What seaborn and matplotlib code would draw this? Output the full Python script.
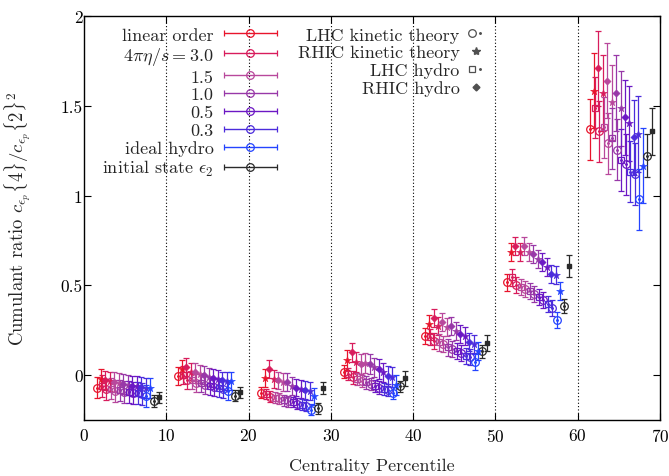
import numpy as np
import pandas as pd
import matplotlib
matplotlib.use("Agg")
import matplotlib.pyplot as plt
import seaborn as sns
from matplotlib.container import ErrorbarContainer
from matplotlib.legend_handler import HandlerErrorbar, HandlerTuple
from matplotlib.lines import Line2D

# ---------------- data ----------------
bin_divisions = [10, 20, 30, 40, 50, 60]
bin_start = [1.6, 11.45, 21.55, 31.55, 41.5, 51.45, 61.5]   # centrality of first point per bin

# LHC (open markers)
lhc_linear_kin = [-0.070, -0.005, -0.097, 0.020, 0.219, 0.516, 1.370]
lhc_3p0_hydro  = [-0.060, 0.000, -0.105, 0.006, 0.210, 0.544, 1.490]
lhc_3p0_kin    = [-0.080, -0.030, -0.120, -0.013, 0.191, 0.503, 1.358]
lhc_1p5_hydro  = [-0.075, -0.030, -0.125, -0.022, 0.182, 0.492, 1.380]
lhc_1p5_kin    = [-0.090, -0.045, -0.130, -0.032, 0.173, 0.479, 1.292]
lhc_1p0_hydro  = [-0.085, -0.045, -0.140, -0.041, 0.154, 0.470, 1.318]
lhc_1p0_kin    = [-0.095, -0.055, -0.145, -0.050, 0.145, 0.451, 1.255]
lhc_0p5_hydro  = [-0.095, -0.060, -0.150, -0.060, 0.135, 0.433, 1.198]
lhc_0p5_kin    = [-0.100, -0.065, -0.160, -0.069, 0.121, 0.418, 1.175]
lhc_0p3_hydro  = [-0.100, -0.070, -0.165, -0.078, 0.108, 0.396, 1.133]
lhc_0p3_kin    = [-0.105, -0.075, -0.171, -0.082, 0.099, 0.373, 1.120]
lhc_ideal      = [-0.115, -0.087, -0.193, -0.100, 0.071, 0.308, 0.980]
lhc_initial    = [-0.143, -0.115, -0.184, -0.063, 0.132, 0.386, 1.222]

# RHIC (filled markers)
rhic_linear_kin = [-0.020, 0.033, -0.018, 0.085, 0.284, 0.683, 1.584]
rhic_3p0_hydro  = [-0.030, 0.045, 0.033, 0.126, 0.318, 0.720, 1.709]
rhic_3p0_kin    = [-0.035, 0.020, -0.022, 0.074, 0.275, 0.683, 1.571]
rhic_1p5_hydro  = [-0.040, 0.015, -0.030, 0.061, 0.294, 0.720, 1.640]
rhic_1p5_kin    = [-0.045, 0.005, -0.037, 0.067, 0.266, 0.683, 1.519]
rhic_1p0_hydro  = [-0.050, 0.000, -0.041, 0.061, 0.275, 0.674, 1.571]
rhic_1p0_kin    = [-0.055, -0.010, -0.060, 0.043, 0.247, 0.646, 1.486]
rhic_0p5_hydro  = [-0.060, -0.015, -0.069, 0.033, 0.228, 0.628, 1.436]
rhic_0p5_kin    = [-0.060, -0.020, -0.078, 0.015, 0.219, 0.600, 1.402]
rhic_0p3_hydro  = [-0.065, -0.030, -0.082, -0.004, 0.182, 0.563, 1.324]
rhic_0p3_kin    = [-0.070, -0.035, -0.091, -0.010, 0.173, 0.559, 1.343]
rhic_ideal      = [-0.070, -0.035, -0.119, -0.056, 0.135, 0.470, 1.166]
rhic_initial    = [-0.124, -0.095, -0.072, -0.018, 0.178, 0.609, 1.358]

# error bars
lhc_err          = [0.060, 0.050, 0.030, 0.035, 0.045, 0.045, 0.170]
rhic_err         = [0.055, 0.050, 0.050, 0.055, 0.050, 0.050, 0.210]
lhc_initial_err  = [0.035, 0.030, 0.030, 0.030, 0.035, 0.040, 0.120]
rhic_initial_err = [0.030, 0.030, 0.035, 0.040, 0.045, 0.060, 0.130]

legend_labels = ["linear order", r"$4\pi\eta/s = 3.0$", "1.5", "1.0", "0.5", "0.3",
                 "ideal hydro", r"initial state $\epsilon_2$"]
legend_labels_right = ["LHC kinetic theory", "RHIC kinetic theory", "LHC hydro", "RHIC hydro"]

# ---------------- style ----------------
FS = 13
sns.set_theme(style="ticks")
plt.rcParams.update({
    "font.family": ["cmr10", "DejaVu Serif"],
    "mathtext.fontset": "cm",
    "axes.formatter.use_mathtext": True,
    "font.size": FS,
    "axes.linewidth": 1.0,
    "axes.edgecolor": "black",
    "xtick.color": "black", "ytick.color": "black",
})

col_linear = "#e8142c"
col_3p0 = "#d81c5c"
col_1p5 = "#b8489c"
col_1p0 = "#9838a8"
col_0p5 = "#6c18c4"
col_0p3 = "#4c2cdc"
col_ideal = "#2444ff"
col_init = "#2a2a2a"

step = 0.545
rhic_shift = 0.43
init_lhc_shift = 6.9
init_rhic_shift = 7.5

# series: (lhc values, rhic values, color, index in bin, is hydro)
series = [
    (lhc_linear_kin, rhic_linear_kin, col_linear, 0, False),
    (lhc_3p0_hydro, rhic_3p0_hydro, col_3p0, 1, True),
    (lhc_3p0_kin, rhic_3p0_kin, col_3p0, 2, False),
    (lhc_1p5_hydro, rhic_1p5_hydro, col_1p5, 3, True),
    (lhc_1p5_kin, rhic_1p5_kin, col_1p5, 4, False),
    (lhc_1p0_hydro, rhic_1p0_hydro, col_1p0, 5, True),
    (lhc_1p0_kin, rhic_1p0_kin, col_1p0, 6, False),
    (lhc_0p5_hydro, rhic_0p5_hydro, col_0p5, 7, True),
    (lhc_0p5_kin, rhic_0p5_kin, col_0p5, 8, False),
    (lhc_0p3_hydro, rhic_0p3_hydro, col_0p3, 9, True),
    (lhc_0p3_kin, rhic_0p3_kin, col_0p3, 10, False),
    (lhc_ideal, rhic_ideal, col_ideal, 11, False),
]

fig = plt.figure(figsize=(6.69, 4.77), dpi=100)
ax = fig.add_axes([84 / 669, 1 - 421 / 477, (660 - 84) / 669, (421 - 17) / 477])

for xv in bin_divisions:
    ax.axvline(xv, color="black", lw=0.8, ls=(0, (1, 2)), zorder=0)

ebkw = dict(capsize=2.5, capthick=0.9, elinewidth=0.9, ls="none")
xs0 = np.array(bin_start)

for lhc, rhic, c, idx, hydro in series:
    xl = xs0 + step * idx
    xr = xl + rhic_shift
    # LHC: open marker with central dot
    ax.errorbar(xl, lhc, yerr=lhc_err, color=c, marker="s" if hydro else "o",
                mfc="none", mec=c, ms=5 if hydro else 5.5, mew=0.9, zorder=2, **ebkw)
    ax.plot(xl, lhc, ls="none", marker="o", ms=1.1, color=c, zorder=3)
    # RHIC: filled marker
    ax.errorbar(xr, rhic, yerr=rhic_err, color=c, fmt="none", zorder=2,
                capsize=2.5, capthick=0.9, elinewidth=0.9)
    df = pd.DataFrame({"x": xr, "y": rhic})
    sns.scatterplot(data=df, x="x", y="y", ax=ax, color=c,
                    marker="D" if hydro else "*", s=14 if hydro else 36,
                    edgecolor=c, linewidth=0.3, zorder=3, legend=False)

# initial state
xi_l = xs0 + init_lhc_shift
xi_r = xs0 + init_rhic_shift
ax.errorbar(xi_l, lhc_initial, yerr=lhc_initial_err, color=col_init, marker="o",
            mfc="none", mec=col_init, ms=5.5, mew=0.9, zorder=2, **ebkw)
ax.plot(xi_l, lhc_initial, ls="none", marker="o", ms=1.1, color=col_init, zorder=3)
ax.errorbar(xi_r, rhic_initial, yerr=rhic_initial_err, color=col_init, marker="s",
            ms=3.5, mfc=col_init, mec=col_init, zorder=2, **ebkw)

ax.set_xlim(0, 70)
ax.set_ylim(-0.25, 2)
ax.set_xticks([0, 10, 20, 30, 40, 50, 60, 70])
ax.set_yticks([0, 0.5, 1, 1.5, 2])
ax.set_yticklabels(["0", "0.5", "1", "1.5", "2"])
ax.tick_params(direction="in", top=True, right=True, length=5, width=0.8, labelsize=12.5)
ax.tick_params(axis="x", pad=5)
ax.tick_params(axis="y", pad=1)
ax.set_xlabel("Centrality Percentile", fontsize=FS, labelpad=10)
ax.set_ylabel(r"Cumulant ratio $c_{\epsilon_p}\{4\}/c_{\epsilon_p}\{2\}^2$", fontsize=FS + 0.5,
              labelpad=20)
for s in ax.spines.values():
    s.set_visible(True)
    s.set_color("black")

# ---------------- legends ----------------
leg_cols = [col_linear, col_3p0, col_1p5, col_1p0, col_0p5, col_0p3, col_ideal, col_init]
handles = []
for c in leg_cols:
    h = ax.errorbar([np.nan], [np.nan], xerr=[[1], [1]], color=c, marker="o", mfc="none",
                    mec=c, ms=5.5, mew=0.9, ls="none", capsize=2.5, elinewidth=1.0)
    handles.append(h)
leg1 = fig.legend(handles, legend_labels, loc="upper right", markerfirst=False,
                  bbox_to_anchor=(277 / 669, 1 - 28 / 477), frameon=False,
                  fontsize=FS, handlelength=2.95, handletextpad=0.55, labelspacing=0.12,
                  borderpad=0, borderaxespad=0,
                  handler_map={ErrorbarContainer: HandlerErrorbar(xerr_size=1.45)})

gc = "#505050"
h_lk = (Line2D([], [], ls="none", marker="o", mfc="none", mec=gc, ms=5.5, mew=0.9),
        Line2D([], [], ls="none", marker="o", color=gc, ms=1.1))
h_rk = Line2D([], [], ls="none", marker="*", color=gc, ms=6)
h_lh = (Line2D([], [], ls="none", marker="s", mfc="none", mec=gc, ms=5, mew=0.9),
        Line2D([], [], ls="none", marker="o", color=gc, ms=1.1))
h_rh = Line2D([], [], ls="none", marker="D", color=gc, ms=3.5)
leg2 = fig.legend([h_lk, h_rk, h_lh, h_rh], legend_labels_right, loc="upper right",
                  markerfirst=False, bbox_to_anchor=(484 / 669, 1 - 28 / 477), frameon=False,
                  fontsize=FS, handlelength=0.9, handletextpad=0.45, labelspacing=0.12,
                  borderpad=0, borderaxespad=0,
                  handler_map={tuple: HandlerTuple(ndivide=None)})

fig.savefig("out.png", dpi=100)
